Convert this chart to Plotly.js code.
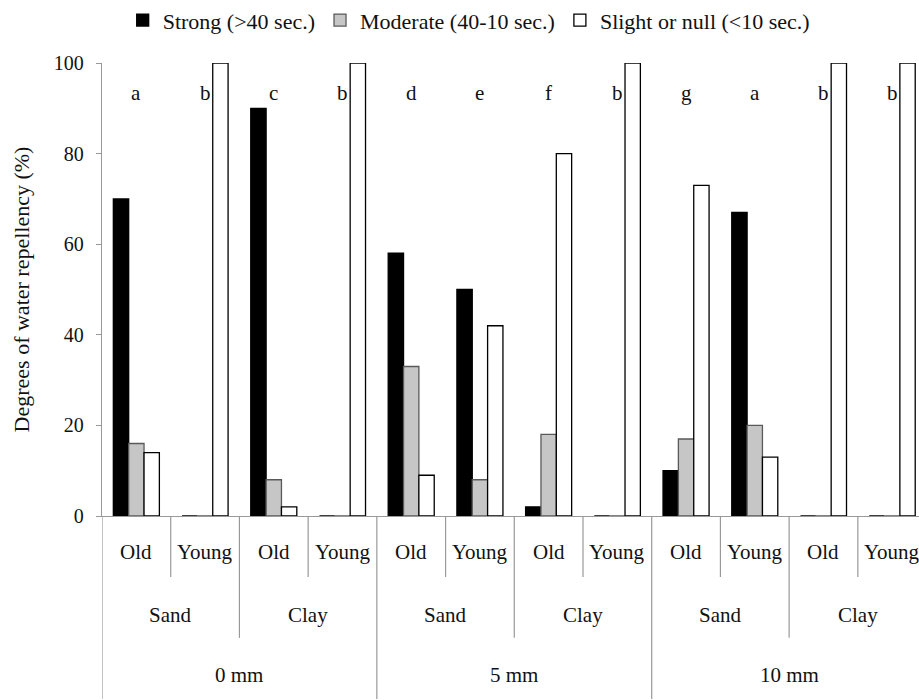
<!DOCTYPE html>
<html>
<head>
<meta charset="utf-8">
<script src="https://cdn.plot.ly/plotly-3.0.1.min.js"></script>
<style>
html,body{margin:0;padding:0;background:#fff;}
#chart{width:919px;height:700px;}
</style>
</head>
<body>
<div id="chart"></div>
<script>
// ---- data ----
const depths = ['0 mm', '5 mm', '10 mm'];
const soils = ['Sand', 'Clay'];
const ages = ['Old', 'Young'];
const seriesNames = ['Strong (>40 sec.)', 'Moderate (40-10 sec.)', 'Slight or null (<10 sec.)'];
const strong   = [70, 0, 90, 0, 58, 50, 2, 0, 10, 67, 0, 0];
const moderate = [16, 0, 8, 0, 33, 8, 18, 0, 17, 20, 0, 0];
const slight   = [14, 100, 2, 100, 9, 42, 80, 100, 73, 13, 100, 100];
const letters  = ['a', 'b', 'c', 'b', 'd', 'e', 'f', 'b', 'g', 'a', 'b', 'b'];
const yTicks = [0, 20, 40, 60, 80, 100];

// ---- build ----
const FONT = 'Liberation Serif';
const n = strong.length;
const xs = [...Array(n).keys()];

const traces = [
  {y: strong, color: '#000000', line: '#000000'},
  {y: moderate, color: '#c6c6c6', line: '#5a5a5a'},
  {y: slight, color: '#ffffff', line: '#000000'}
].map((s, k) => ({
  type: 'bar', x: xs, y: s.y, name: seriesNames[k],
  marker: {color: s.color, line: {color: s.line, width: 1.3}},
  hoverinfo: 'y+name'
}));

const annotations = [];
const shapes = [];
const GRAY = '#999999';
const yAge = -0.0795, ySoil = -0.2185, yDepth = -0.351;
const bAge = -0.1347, bSoil = -0.269, bDepth = -0.404;
const TXT = (sz) => ({family: FONT, size: sz, color: '#111'});

letters.forEach((t, i) => annotations.push({
  x: i, y: 93.4, xref: 'x', yref: 'y', text: t, showarrow: false, font: TXT(21)
}));

let i = 0;
depths.forEach((d, di) => {
  const startDepth = i;
  soils.forEach((s, si) => {
    const startSoil = i;
    ages.forEach((a, ai) => {
      annotations.push({x: i, y: yAge, xref: 'x', yref: 'paper', text: a, showarrow: false,
        yanchor: 'middle', font: TXT(21)});
      if (ai > 0) shapes.push({type: 'line', xref: 'x', yref: 'paper', x0: i - 0.5, x1: i - 0.5, y0: 0, y1: bAge,
        line: {color: GRAY, width: 1.2}});
      i++;
    });
    annotations.push({x: (startSoil + i - 1) / 2, y: ySoil, xref: 'x', yref: 'paper', text: s, showarrow: false,
      yanchor: 'middle', font: TXT(21)});
    if (si > 0) shapes.push({type: 'line', xref: 'x', yref: 'paper', x0: startSoil - 0.5, x1: startSoil - 0.5, y0: 0, y1: bSoil,
      line: {color: GRAY, width: 1.2}});
  });
  annotations.push({x: (startDepth + i - 1) / 2, y: yDepth, xref: 'x', yref: 'paper', text: d, showarrow: false,
    yanchor: 'middle', font: TXT(21)});
  shapes.push({type: 'line', xref: 'x', yref: 'paper', x0: startDepth - 0.5, x1: startDepth - 0.5, y0: 0, y1: bDepth,
    line: {color: GRAY, width: 1.2}});
});

const layout = {
  width: 919, height: 700,
  margin: {l: 102, r: 0, t: 63, b: 184},
  paper_bgcolor: '#fff', plot_bgcolor: '#fff',
  barmode: 'group', bargap: 0.33, bargroupgap: 0,
  font: TXT(20),
  showlegend: true,
  legend: {orientation: 'h', xref: 'container', yref: 'container', x: 0.51, xanchor: 'center',
    y: 0.971, yanchor: 'middle', font: TXT(22),
    itemwidth: 30, tracegroupgap: 0, bgcolor: 'rgba(0,0,0,0)'},
  xaxis: {range: [-0.5, 11.39], showticklabels: false, ticks: '', showgrid: false, zeroline: false,
    showline: true, linecolor: GRAY, linewidth: 1.2, fixedrange: true},
  yaxis: {range: [0, 100], tickvals: yTicks, ticks: 'outside', ticklen: 5, tickcolor: GRAY,
    showgrid: false, zeroline: false, showline: true, linecolor: GRAY, linewidth: 1.2,
    tickfont: TXT(20), ticklabelstandoff: 8,
    title: {text: 'Degrees of water repellency (%)', font: TXT(22), standoff: 18},
    fixedrange: true},
  annotations: annotations,
  shapes: shapes
};

Plotly.newPlot('chart', traces, layout, {displayModeBar: false, staticPlot: true});
</script>
</body>
</html>
